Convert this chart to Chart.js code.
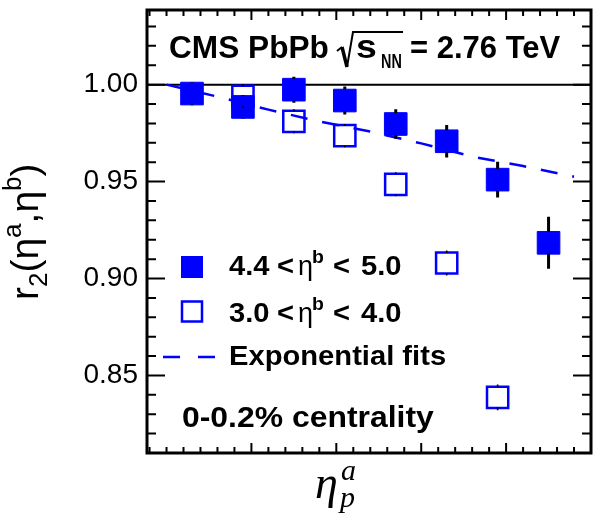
<!DOCTYPE html>
<html>
<head>
<meta charset="utf-8">
<script src="https://cdn.jsdelivr.net/npm/chart.js@4"></script>
<style>
  html, body { margin: 0; padding: 0; background: #fff; }
  #r2chart { display: block; }
</style>
</head>
<body>
<canvas id="r2chart" width="594" height="523"></canvas>
<script>
// eta^a bin centres and r2 values
const etaHigh = [0.15, 0.45, 0.75, 1.05, 1.35, 1.65, 1.95, 2.25];
const r2High = [0.9954, 0.9885, 0.9974, 0.9918, 0.9797, 0.9708, 0.9510, 0.9184];
const errHigh = [0.0060, 0.0060, 0.0067, 0.0072, 0.0076, 0.0084, 0.0092, 0.0134];

const etaLow = [0.45, 0.75, 1.05, 1.35, 1.65, 1.95];
const r2Low = [0.9940, 0.9811, 0.9737, 0.9486, 0.9080, 0.8387];
const errLow = [0.0062, 0.0062, 0.0060, 0.0062, 0.0064, 0.0066];

// dashed exponential fit, sampled along the drawn curve
const fitEta = [0.0, 0.3, 0.6, 0.9, 1.2, 1.5, 1.8, 2.1, 2.4];
const fitR2 = [1.000, 0.9938, 0.9871, 0.9810, 0.9758, 0.9697, 0.9629, 0.9580, 0.9525];

const yTickLabels = ['0.85', '0.90', '0.95', '1.00'];
const legendLabels = [['4.4', '5.0'], ['3.0', '4.0'], 'Exponential fits'];
const titleParts = ['CMS PbPb', 's', 'NN', '= 2.76 TeV'];
const centralityLabel = '0-0.2% centrality';

const BLUE = '#0000ff';
const SANS = '"Liberation Sans", Arial, sans-serif';

function toPoints(xs, ys) {
  return xs.map((x, i) => ({ x: x, y: ys[i] }));
}

function stretchText(ctx, str, x, y, font, sx) {
  ctx.save();
  ctx.font = font;
  ctx.translate(x, y);
  ctx.scale(sx, 1);
  ctx.fillText(str, 0, 0);
  const w = ctx.measureText(str).width * sx;
  ctx.restore();
  return w;
}

// ROOT style error bars: drawn outside the marker only
function drawErrors(ctx, xScale, yScale, xs, ys, errs, gap) {
  xs.forEach((xv, i) => {
    const px = xScale.getPixelForValue(xv);
    const py = yScale.getPixelForValue(ys[i]);
    const top = yScale.getPixelForValue(ys[i] + errs[i]);
    const bot = yScale.getPixelForValue(ys[i] - errs[i]);
    ctx.beginPath();
    if (py - top > gap) { ctx.moveTo(px, top); ctx.lineTo(px, py - gap); }
    if (bot - py > gap) { ctx.moveTo(px, py + gap); ctx.lineTo(px, bot); }
    ctx.stroke();
  });
}

const framePlugin = {
  id: 'rootFrame',
  beforeDatasetsDraw(chart) {
    const { ctx, chartArea: a, scales: { y } } = chart;
    const y1 = y.getPixelForValue(1.0);
    ctx.save();
    ctx.strokeStyle = '#000';
    ctx.lineWidth = 2;
    ctx.beginPath();
    ctx.moveTo(a.left, y1);
    ctx.lineTo(a.right, y1);
    ctx.stroke();
    ctx.restore();
  },
  afterDatasetsDraw(chart) {
    const { ctx, scales: { x, y } } = chart;
    ctx.save();
    ctx.strokeStyle = '#000';
    ctx.lineWidth = 1.6;
    drawErrors(ctx, x, y, etaLow, r2Low, errLow, 10);
    ctx.lineWidth = 3;
    drawErrors(ctx, x, y, etaHigh, r2High, errHigh, 11);
    ctx.restore();
  },
  afterDraw(chart) {
    const { ctx, chartArea: a, scales: { x, y } } = chart;
    ctx.save();
    ctx.strokeStyle = '#000';
    ctx.fillStyle = '#000';

    // inward ticks on all four sides
    ctx.lineWidth = 2;
    ctx.beginPath();
    for (let k = -1; k <= 25; k++) {
      const px = x.getPixelForValue(k / 10);
      if (px <= a.left + 1 || px >= a.right - 1) continue;
      const len = k % 5 === 0 && k > 0 ? 10 : 6;
      ctx.moveTo(px, a.bottom); ctx.lineTo(px, a.bottom - len);
      ctx.moveTo(px, a.top); ctx.lineTo(px, a.top + len);
    }
    for (let k = 81; k <= 103; k++) {
      const py = y.getPixelForValue(k / 100);
      const len = k % 5 === 0 ? 18 : 9;
      ctx.moveTo(a.left, py); ctx.lineTo(a.left + len, py);
      ctx.moveTo(a.right, py); ctx.lineTo(a.right - len, py);
    }
    ctx.stroke();

    // frame
    ctx.lineWidth = 3;
    ctx.strokeRect(a.left, a.top, a.right - a.left, a.bottom - a.top);

    // title
    const tf = 'bold 31px ' + SANS;
    stretchText(ctx, titleParts[0], 169, 58, tf, 1.02);
    ctx.lineWidth = 2;
    ctx.beginPath(); ctx.moveTo(337, 51); ctx.lineTo(342, 47); ctx.stroke();
    ctx.lineWidth = 3.5;
    ctx.beginPath(); ctx.moveTo(342, 47); ctx.lineTo(347, 67); ctx.stroke();
    ctx.lineWidth = 2;
    ctx.beginPath(); ctx.moveTo(347, 67); ctx.lineTo(353, 32); ctx.lineTo(403, 32); ctx.stroke();
    stretchText(ctx, titleParts[1], 356, 58, 'bold 34px ' + SANS, 1.1);
    stretchText(ctx, titleParts[2], 381, 68, 'bold 20px ' + SANS, 0.72);
    stretchText(ctx, titleParts[3], 410, 58, tf, 1.0);

    // legend
    ctx.fillStyle = BLUE;
    ctx.fillRect(181, 256, 22, 22);
    ctx.strokeStyle = BLUE;
    ctx.lineWidth = 2.5;
    ctx.strokeRect(182, 301.5, 20, 20);
    ctx.beginPath();
    ctx.moveTo(163, 357); ctx.lineTo(180, 357);
    ctx.moveTo(198, 357); ctx.lineTo(215, 357);
    ctx.stroke();

    ctx.fillStyle = '#000';
    const lf = 'bold 27px ' + SANS;
    const ef = '27px ' + SANS;
    const bf = 'bold 18px ' + SANS;
    [[275, legendLabels[0]], [322, legendLabels[1]]].forEach(([base, lab]) => {
      stretchText(ctx, lab[0], 229, base, lf, 1.08);
      stretchText(ctx, '<', 277, base, lf, 1.08);
      stretchText(ctx, 'η', 298, base, ef, 1.0);
      stretchText(ctx, 'b', 312, base - 12, bf, 1.08);
      stretchText(ctx, '<', 333, base, lf, 1.08);
      stretchText(ctx, lab[1], 361, base, lf, 1.08);
    });
    stretchText(ctx, legendLabels[2], 229, 365, lf, 1.08);
    stretchText(ctx, centralityLabel, 182, 427, 'bold 29px ' + SANS, 1.1);

    // y axis title r2(eta^a, eta^b)
    ctx.save();
    ctx.translate(38, 300);
    ctx.rotate(-Math.PI / 2);
    const f = '39px ' + SANS, fs = '26px ' + SANS;
    let cx = 0;
    cx += stretchText(ctx, 'r', cx, 0, f, 1);
    cx += stretchText(ctx, '2', cx, 9, fs, 1);
    cx += stretchText(ctx, '(', cx, 0, f, 1);
    cx += stretchText(ctx, 'η', cx, 0, f, 1);
    cx += stretchText(ctx, 'a', cx, -17, fs, 1);
    cx += stretchText(ctx, ',', cx, 0, f, 1);
    cx += stretchText(ctx, 'η', cx, 0, f, 1);
    cx += stretchText(ctx, 'b', cx, -17, fs, 1);
    stretchText(ctx, ')', cx, 0, f, 1);
    ctx.restore();

    // x axis title eta_p^a
    ctx.font = 'italic 46px "Liberation Serif", serif';
    ctx.fillText('η', 315, 498);
    ctx.font = 'italic 30px "Liberation Serif", serif';
    ctx.fillText('a', 341, 480);
    ctx.fillText('p', 340, 507);

    ctx.restore();
  }
};

new Chart(document.getElementById('r2chart'), {
  type: 'scatter',
  data: {
    datasets: [{
      label: '4.4 < eta^b < 5.0',
      data: toPoints(etaHigh, r2High),
      pointStyle: 'rect',
      pointRadius: 16,
      backgroundColor: BLUE,
      borderColor: BLUE,
      borderWidth: 1
    }, {
      label: '3.0 < eta^b < 4.0',
      data: toPoints(etaLow, r2Low),
      pointStyle: 'rect',
      pointRadius: 15,
      backgroundColor: 'rgba(0,0,0,0)',
      borderColor: BLUE,
      borderWidth: 2.5
    }, {
      label: 'Exponential fits',
      data: toPoints(fitEta, fitR2),
      showLine: true,
      pointRadius: 0,
      borderColor: BLUE,
      borderWidth: 2.5,
      borderDash: [17, 15],
      fill: false
    }]
  },
  options: {
    responsive: false,
    animation: false,
    devicePixelRatio: 1,
    events: [],
    layout: { autoPadding: false, padding: { top: 10, right: 3, bottom: 70, left: 0 } },
    scales: {
      x: {
        type: 'linear',
        display: false,
        min: -0.115,
        max: 2.5
      },
      y: {
        type: 'linear',
        min: 0.81,
        max: 1.0385,
        grid: { display: false, drawTicks: false },
        border: { display: false },
        ticks: {
          stepSize: 0.01,
          autoSkip: false,
          padding: 9,
          color: '#000',
          font: { family: 'Liberation Sans', size: 28 },
          callback: (v) => {
            const s = (Math.round(v * 100) / 100).toFixed(2);
            return yTickLabels.includes(s) && Math.abs(v - parseFloat(s)) < 1e-6 ? s : null;
          }
        },
        afterFit: (scale) => {
          scale.width = 147;
          scale.paddingTop = 0;
          scale.paddingBottom = 0;
        }
      }
    },
    plugins: {
      legend: { display: false },
      tooltip: { enabled: false }
    }
  },
  plugins: [framePlugin]
});
</script>
</body>
</html>
